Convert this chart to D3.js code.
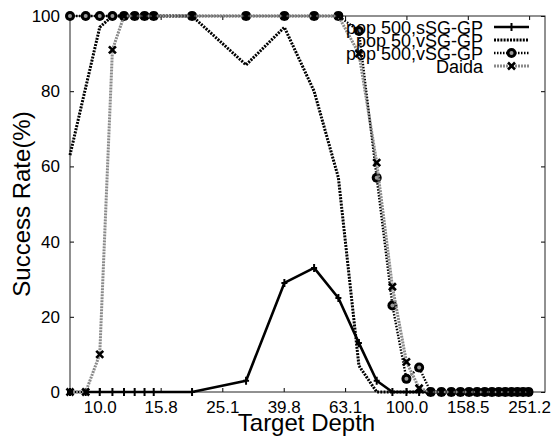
<!DOCTYPE html>
<html>
<head>
<meta charset="utf-8">
<script src="https://cdn.jsdelivr.net/npm/d3@7"></script>
<style>
  body { margin: 0; background: #fff; }
  text { font-family: "Liberation Sans", Arial, sans-serif; fill: #000; }
</style>
</head>
<body>
<div class="visHolder"></div>
<script>
const depths = [8, 9, 10, 11, 12, 13, 14, 15, 20, 30, 40, 50, 60, 70, 80, 90, 100,
  110, 120, 130, 140, 150, 160, 170, 180, 190, 200, 210, 220, 230, 240, 250];

// success rates (%), one per depth
const sSG500 = [0, 0, 0, 0, 0, 0, 0, 0, 0, 3, 29, 33, 25, 13, 3, 0, 0,
  0, 0, 0, 0, 0, 0, 0, 0, 0, 0, 0, 0, 0, 0, 0];
const vSG50 = [63, 81, 97, 100, 100, 100, 100, 100, 100, 87, 97, 80, 57, 7, 0, 0, 0,
  0, 0, 0, 0, 0, 0, 0, 0, 0, 0, 0, 0, 0, 0, 0];
const vSG500 = [100, 100, 100, 100, 100, 100, 100, 100, 100, 100, 100, 100, 100, 96, 57, 23, 3.5,
  6.5, 0, 0, 0, 0, 0, 0, 0, 0, 0, 0, 0, 0, 0, 0];
const daida = [0, 0, 10, 91, 100, 100, 100, 100, 100, 100, 100, 100, 100, 90, 61, 28, 8,
  1, 0, 0, 0, 0, 0, 0, 0, 0, 0, 0, 0, 0, 0, 0];

const seriesNames = ["pop 500,sSG-GP", "pop 50,vSG-GP", "pop 500,vSG-GP", "Daida"];
const xTickLabels = ["10.0", "15.8", "25.1", "39.8", "63.1", "100.0", "158.5", "251.2"];
const yTicks = [0, 20, 40, 60, 80, 100];

const width = 553;
const height = 436;
const pLeft = 70, pRight = 545, pTop = 16, pBottom = 392;

const x = d3.scaleLog().domain([8, 283]).range([pLeft, pRight]);
const y = d3.scaleLinear().domain([0, 100]).range([pBottom, pTop]);

const svg = d3.select(".visHolder").append("svg")
  .attr("width", width).attr("height", height);

const styles = [
  { data: sSG500, color: "#000", width: 2.6, dash: null, marker: "plus" },
  { data: vSG50, color: "#000", width: 3, dash: "2,1.2", marker: null },
  { data: vSG500, color: "#000", width: 2.4, dash: "1.5,1.5", marker: "circle" },
  { data: daida, color: "#8a8a8a", width: 3, dash: "2,1", marker: "x" },
];

// axes
const xTicks = xTickLabels.map(Number);
svg.append("g").attr("transform", `translate(0,${pBottom})`)
  .call(d3.axisBottom(x).tickValues(xTicks).tickFormat((d, i) => xTickLabels[i])
    .tickSize(-4).tickPadding(9))
  .call(g => g.select(".domain").remove())
  .call(g => g.selectAll("text").style("font-size", "17px"));
svg.append("g").attr("transform", `translate(0,${pTop})`)
  .call(d3.axisTop(x).tickValues(xTicks).tickFormat("").tickSize(-4))
  .call(g => g.select(".domain").remove());
svg.append("g").attr("transform", `translate(${pLeft},0)`)
  .call(d3.axisLeft(y).tickValues(yTicks).tickSize(-4).tickPadding(10))
  .call(g => g.select(".domain").remove())
  .call(g => g.selectAll("text").style("font-size", "17px"));
svg.append("g").attr("transform", `translate(${pRight},0)`)
  .call(d3.axisRight(y).tickValues(yTicks).tickFormat("").tickSize(-4))
  .call(g => g.select(".domain").remove());

svg.append("rect")
  .attr("x", pLeft).attr("y", pTop)
  .attr("width", pRight - pLeft).attr("height", pBottom - pTop)
  .attr("fill", "none").attr("stroke", "#222").attr("stroke-width", 1);

svg.append("text")
  .attr("transform", `translate(30,${(pTop + pBottom) / 2}) rotate(-90)`)
  .attr("text-anchor", "middle")
  .style("font-size", "24px")
  .text("Success Rate(%)");

svg.append("text")
  .attr("x", (pLeft + pRight) / 2 - 1).attr("y", 431)
  .attr("text-anchor", "middle")
  .style("font-size", "24px")
  .text("Target Depth");

function drawMarker(g, type) {
  if (type === "plus") {
    g.append("path").attr("d", "M-3,0H3M0,-4V4")
      .attr("stroke", "#000").attr("stroke-width", 2);
  } else if (type === "circle") {
    g.append("circle").attr("r", 5).attr("fill", "#000");
    g.append("circle").attr("r", 2).attr("fill", "#999");
  } else if (type === "x") {
    g.append("path").attr("d", "M-3.5,-3.5L3.5,3.5M-3.5,3.5L3.5,-3.5")
      .attr("stroke", "#000").attr("stroke-width", 2.6);
  }
}

const line = d3.line().x((d, i) => x(depths[i])).y(d => y(d));

styles.forEach(s => {
  svg.append("path")
    .attr("d", line(s.data))
    .attr("fill", "none")
    .attr("stroke", s.color)
    .attr("stroke-width", s.width)
    .attr("stroke-dasharray", s.dash)
    .attr("stroke-linejoin", "round");
  if (s.marker) {
    svg.append("g").selectAll("g")
      .data(s.data)
      .enter()
      .append("g")
      .attr("transform", (d, i) => `translate(${x(depths[i])},${y(d)})`)
      .each(function () { drawMarker(d3.select(this), s.marker); });
  }
});

// legend
const legend = svg.append("g");
styles.forEach((s, i) => {
  const cy = 27 + i * 13;
  legend.append("text")
    .attr("x", 483).attr("y", cy + 7)
    .attr("text-anchor", "end")
    .style("font-size", "18px")
    .text(seriesNames[i]);
  legend.append("line")
    .attr("x1", 494).attr("x2", 529).attr("y1", cy).attr("y2", cy)
    .attr("stroke", s.color).attr("stroke-width", s.width)
    .attr("stroke-dasharray", s.dash);
  if (s.marker) {
    const g = legend.append("g").attr("transform", `translate(511.5,${cy})`);
    drawMarker(g, s.marker);
  }
});
</script>
</body>
</html>
